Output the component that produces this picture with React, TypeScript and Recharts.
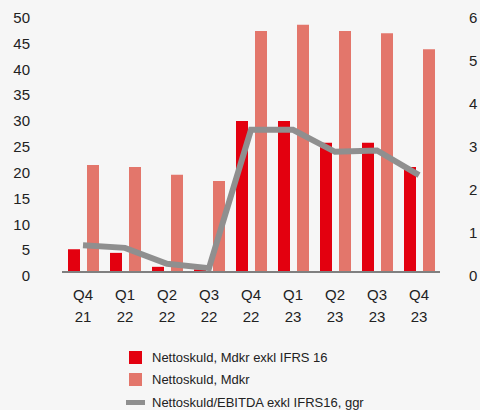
import { ComposedChart, Bar, Line, XAxis, YAxis, Legend } from 'recharts';

const quarters = ['Q4', 'Q1', 'Q2', 'Q3', 'Q4', 'Q1', 'Q2', 'Q3', 'Q4'];
const years = ['21', '22', '22', '22', '22', '23', '23', '23', '23'];
const debtExclIfrs16 = [4.4, 3.7, 1.0, 0.5, 29.2, 29.2, 25.0, 25.0, 20.3];
const debtTotal = [20.7, 20.3, 18.8, 17.6, 46.6, 47.8, 46.6, 46.2, 43.1];
const debtToEbitda = [0.62, 0.56, 0.19, 0.09, 3.3, 3.3, 2.79, 2.82, 2.25];
const leftTicks = [0, 5, 10, 15, 20, 25, 30, 35, 40, 45, 50];
const rightTicks = [0, 1, 2, 3, 4, 5, 6];
const seriesNames = [
  'Nettoskuld, Mdkr exkl IFRS 16',
  'Nettoskuld, Mdkr',
  'Nettoskuld/EBITDA exkl IFRS16, ggr',
];

const FONT = "Arial, 'Liberation Sans', sans-serif";
const TEXT = '#222222';
const RED = '#e3000f';
const PINK = '#e3766b';
const GREY = '#8f8f8f';

const data = quarters.map((q, i) => ({
  label: `${q} ${years[i]}`,
  debtExclIfrs16: debtExclIfrs16[i],
  debtTotal: debtTotal[i],
  debtToEbitda: debtToEbitda[i],
}));

function QuarterTick({ x, y, payload }: any) {
  const [q, yr] = String(payload.value).split(' ');
  return (
    <text x={x} y={y} textAnchor="middle" fill={TEXT} fontSize={15} fontFamily={FONT}>
      <tspan x={x} dy={0}>{q}</tspan>
      <tspan x={x} dy={22}>{yr}</tspan>
    </text>
  );
}

// legend keeps the series order (recharts sorts by name otherwise)
function ChartLegend({ payload }: any) {
  const items = [...(payload || [])].sort(
    (a: any, b: any) => seriesNames.indexOf(a.value) - seriesNames.indexOf(b.value)
  );
  return (
    <div style={{ fontFamily: FONT, fontSize: 13, color: TEXT }}>
      {items.map((p: any) => (
        <div key={p.value} style={{ display: 'flex', alignItems: 'center', height: 22.5 }}>
          <div style={{ width: 20, display: 'flex', justifyContent: 'center', marginRight: 7 }}>
            {p.type === 'line' ? (
              <div style={{ width: 19, height: 5, background: p.color }} />
            ) : (
              <div style={{ width: 13, height: 13, background: p.color }} />
            )}
          </div>
          <span>{p.value}</span>
        </div>
      ))}
    </div>
  );
}

export default function App() {
  return (
    <div style={{ position: 'absolute', left: 0, top: 0, width: 480, height: 410, background: '#f6f6f6' }}>
      <ComposedChart
        width={480}
        height={410}
        data={data}
        margin={{ top: 13.5, right: 0, bottom: 98, left: 0 }}
        barSize={12}
        barGap={7}
      >
        <XAxis
          dataKey="label"
          height={40}
          tick={<QuarterTick />}
          tickLine={false}
          tickSize={0}
          tickMargin={28}
          interval={0}
          axisLine={{ stroke: '#808080', strokeWidth: 2 }}
        />
        <YAxis
          yAxisId="left"
          width={62}
          domain={[0, 50]}
          ticks={leftTicks}
          interval={0}
          axisLine={false}
          tickLine={false}
          tickSize={0}
          tickMargin={32}
          tick={{ fill: TEXT, fontSize: 15, fontFamily: FONT, dy: 4 }}
        />
        <YAxis
          yAxisId="right"
          orientation="right"
          width={40}
          domain={[0, 6]}
          ticks={rightTicks}
          interval={0}
          axisLine={false}
          tickLine={false}
          tickSize={0}
          tickMargin={29}
          tick={{ fill: TEXT, fontSize: 15, fontFamily: FONT, dy: 4, textAnchor: 'start' }}
        />
        <Bar
          yAxisId="left"
          dataKey="debtExclIfrs16"
          name={seriesNames[0]}
          fill={RED}
          isAnimationActive={false}
        />
        <Bar
          yAxisId="left"
          dataKey="debtTotal"
          name={seriesNames[1]}
          fill={PINK}
          isAnimationActive={false}
        />
        <Line
          yAxisId="right"
          dataKey="debtToEbitda"
          name={seriesNames[2]}
          stroke={GREY}
          strokeWidth={6}
          dot={false}
          activeDot={false}
          type="linear"
          legendType="line"
          isAnimationActive={false}
        />
        <Legend
          layout="vertical"
          align="center"
          verticalAlign="middle"
          content={<ChartLegend />}
          wrapperStyle={{ position: 'absolute', top: 346, left: 125, width: 'auto' }}
        />
      </ComposedChart>
    </div>
  );
}
